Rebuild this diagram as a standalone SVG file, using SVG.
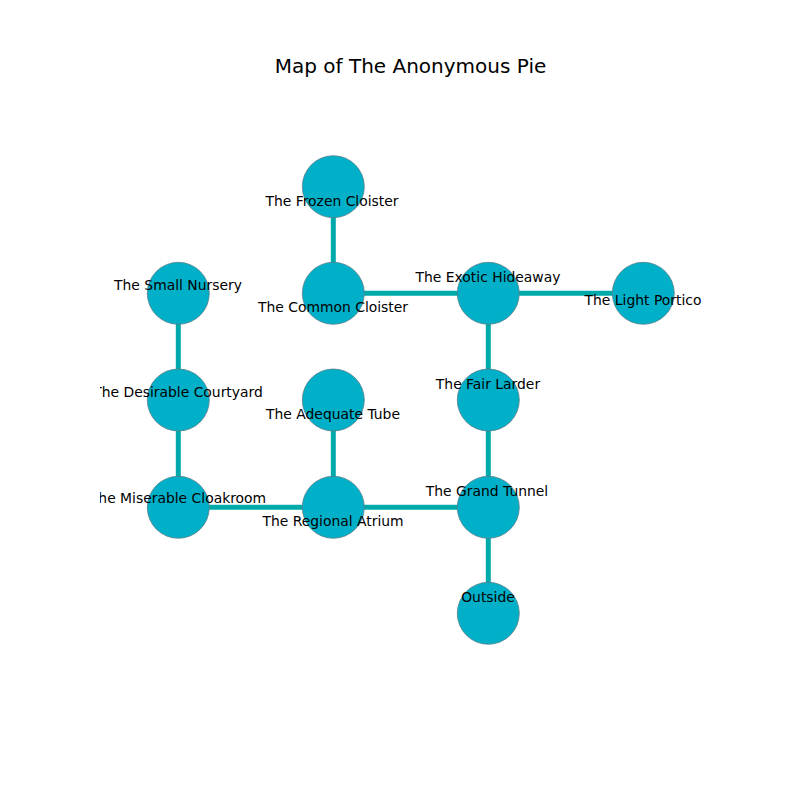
<svg xmlns="http://www.w3.org/2000/svg" width="800" height="800" viewBox="0 0 800 800">
<defs>
<style>
.node{fill:#00b0c9;stroke:#5a7f88;stroke-width:0.8}
.edge{stroke:#00a9aa;stroke-width:5;fill:none}
.lbl{font-family:"DejaVu Sans",sans-serif;font-size:13.9px;fill:#000;text-anchor:middle}
.title{font-family:"DejaVu Sans",sans-serif;font-size:20px;fill:#000;text-anchor:middle}
</style>
<clipPath id="ax"><rect x="100" y="96" width="620" height="616"/></clipPath>
</defs>
<rect width="800" height="800" fill="#fff"/>
<text class="title" x="410.5" y="73">Map of The Anonymous Pie</text>
<g clip-path="url(#ax)">
<g id="edges">
<line class="edge" x1="333.3" y1="186.7" x2="333.3" y2="293.3"/>
<line class="edge" x1="333.3" y1="293.3" x2="488.3" y2="293.3"/>
<line class="edge" x1="488.3" y1="293.3" x2="643.3" y2="293.3"/>
<line class="edge" x1="488.3" y1="293.3" x2="488.3" y2="400"/>
<line class="edge" x1="488.3" y1="400" x2="488.3" y2="507.3"/>
<line class="edge" x1="488.3" y1="507.3" x2="488.3" y2="613.3"/>
<line class="edge" x1="333.3" y1="507.3" x2="488.3" y2="507.3"/>
<line class="edge" x1="333.3" y1="400" x2="333.3" y2="507.3"/>
<line class="edge" x1="178.3" y1="507.3" x2="333.3" y2="507.3"/>
<line class="edge" x1="178.3" y1="400" x2="178.3" y2="507.3"/>
<line class="edge" x1="178.3" y1="293.3" x2="178.3" y2="400"/>
</g>
<g id="n-frozen"><circle class="node" cx="333.3" cy="186.7" r="31"/><text class="lbl" x="332" y="206">The Frozen Cloister</text></g>
<g id="n-common"><circle class="node" cx="333.3" cy="293.3" r="31"/><text class="lbl" x="333" y="312">The Common Cloister</text></g>
<g id="n-exotic"><circle class="node" cx="488.3" cy="293.3" r="31"/><text class="lbl" x="488" y="282">The Exotic Hideaway</text></g>
<g id="n-light"><circle class="node" cx="643.3" cy="293.3" r="31"/><text class="lbl" x="643" y="305">The Light Portico</text></g>
<g id="n-small"><circle class="node" cx="178.3" cy="293.3" r="31"/><text class="lbl" x="178" y="290">The Small Nursery</text></g>
<g id="n-desirable"><circle class="node" cx="178.3" cy="400" r="31"/><text class="lbl" x="178" y="397">The Desirable Courtyard</text></g>
<g id="n-adequate"><circle class="node" cx="333.3" cy="400" r="31"/><text class="lbl" x="333" y="419">The Adequate Tube</text></g>
<g id="n-fair"><circle class="node" cx="488.3" cy="400" r="31"/><text class="lbl" x="488" y="389">The Fair Larder</text></g>
<g id="n-miserable"><circle class="node" cx="178.3" cy="507.3" r="31"/><text class="lbl" x="178" y="503">The Miserable Cloakroom</text></g>
<g id="n-regional"><circle class="node" cx="333.3" cy="507.3" r="31"/><text class="lbl" x="333" y="526">The Regional Atrium</text></g>
<g id="n-grand"><circle class="node" cx="488.3" cy="507.3" r="31"/><text class="lbl" x="487" y="496">The Grand Tunnel</text></g>
<g id="n-outside"><circle class="node" cx="488.3" cy="613.3" r="31"/><text class="lbl" x="488" y="602">Outside</text></g>
</g>
</svg>
